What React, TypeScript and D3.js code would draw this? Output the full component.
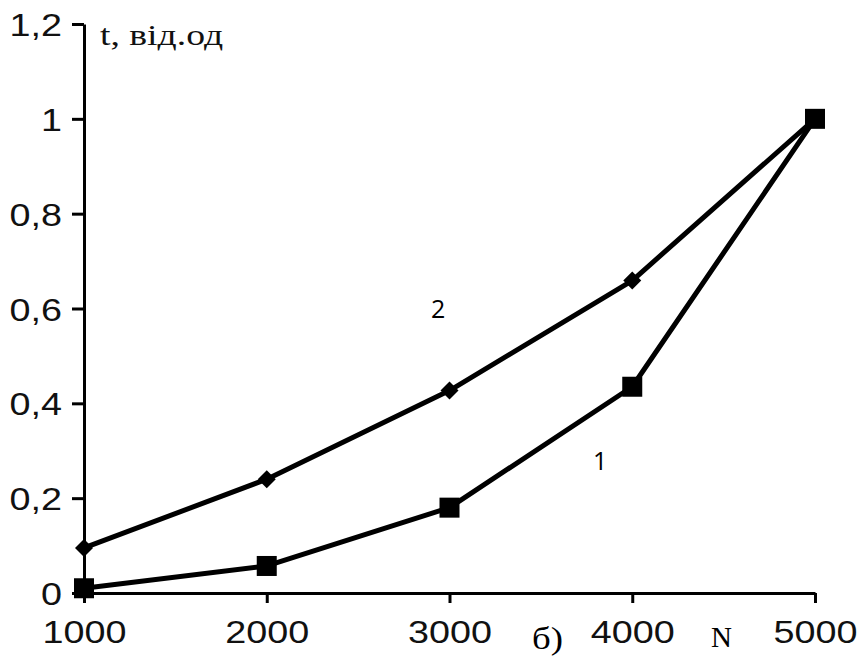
import { useEffect, useRef } from 'react';
import * as d3 from 'd3';

const nValues = [1000, 2000, 3000, 4000, 5000];
const series1 = [0.01, 0.057, 0.18, 0.435, 1.0];
const series2 = [0.095, 0.24, 0.427, 0.659, 1.0];
const yTicks = [0, 0.2, 0.4, 0.6, 0.8, 1, 1.2];

export default function App() {
  const svgRef = useRef<SVGSVGElement>(null);

  useEffect(() => {
    if (!svgRef.current) return;
    const svg = d3.select(svgRef.current);
    svg.selectAll('*').remove();

    const x = d3.scaleLinear().domain([1000, 5000]).range([84, 815]);
    const y = d3.scaleLinear().domain([0, 1.2]).range([593, 24]);
    const fmt = (v: number) => d3.format('~g')(v).replace('.', ',');

    const axisFont = '"Liberation Sans", Arial, sans-serif';
    const serif = '"Liberation Serif", "Times New Roman", serif';
    const stretch = 1.18;

    // y axis
    const gy = svg.append('g').attr('transform', `translate(${x(1000)},0)`);
    gy.call(d3.axisLeft(y).tickValues(yTicks).tickFormat(d => fmt(d as number)).tickSize(12).tickSizeOuter(0));
    gy.select('.domain').attr('stroke', '#000').attr('stroke-width', 3);
    gy.selectAll('.tick line').attr('stroke', '#000').attr('stroke-width', 3);
    gy.selectAll('.tick text')
      .attr('x', -22 / stretch)
      .attr('transform', `scale(${stretch},1)`)
      .attr('font-family', axisFont)
      .attr('font-size', 32)
      .attr('fill', '#111')
      .attr('dy', '0.36em');

    // x axis
    const gx = svg.append('g').attr('transform', `translate(0,${y(0)})`);
    gx.call(d3.axisBottom(x).tickValues(nValues).tickFormat(d => String(d)).tickSize(10).tickSizeOuter(0));
    gx.select('.domain').attr('stroke', '#000').attr('stroke-width', 3);
    gx.selectAll('.tick line').attr('stroke', '#000').attr('stroke-width', 3);
    gx.selectAll('.tick text')
      .attr('y', 50)
      .attr('dy', 0)
      .attr('transform', `scale(${stretch},1)`)
      .attr('font-family', axisFont)
      .attr('font-size', 32)
      .attr('fill', '#111');

    const line = d3.line<number>()
      .x((_, i) => x(nValues[i]))
      .y(d => y(d));

    svg.append('path').datum(series2).attr('d', line).attr('fill', 'none')
      .attr('stroke', '#000').attr('stroke-width', 5).attr('stroke-linejoin', 'round');
    svg.append('path').datum(series1).attr('d', line).attr('fill', 'none')
      .attr('stroke', '#000').attr('stroke-width', 5).attr('stroke-linejoin', 'round');

    const dh = 9;
    svg.append('g').selectAll('path').data(series2).join('path')
      .attr('d', `M0,${-dh}L${dh},0L0,${dh}L${-dh},0Z`)
      .attr('transform', (d, i) => `translate(${x(nValues[i])},${y(d)})`)
      .attr('fill', '#000');

    const sq = 20;
    svg.append('g').selectAll('rect').data(series1).join('rect')
      .attr('x', (_, i) => x(nValues[i]) - sq / 2)
      .attr('y', d => y(d) - sq / 2)
      .attr('width', sq)
      .attr('height', sq)
      .attr('fill', '#000');

    // labels
    svg.append('text').attr('transform', 'translate(100,45) scale(1.3,1)')
      .attr('font-family', serif)
      .attr('font-size', 29).attr('fill', '#111').text('t, від.од');
    svg.append('text').attr('x', 431).attr('y', 318)
      .attr('font-family', '"Open Sans", sans-serif')
      .attr('font-size', 25).attr('fill', '#000').text('2');
    svg.append('text').attr('x', 593).attr('y', 470)
      .attr('font-family', '"Open Sans", sans-serif')
      .attr('font-size', 25).attr('fill', '#000').text('1');
    svg.append('text').attr('transform', 'translate(532,649) scale(1.15,1)')
      .attr('font-family', serif)
      .attr('font-size', 32).attr('fill', '#000').text('б)');
    svg.append('text').attr('x', 711).attr('y', 647)
      .attr('font-family', serif)
      .attr('font-size', 29).attr('fill', '#000').text('N');
  }, []);

  return (
    <svg
      ref={svgRef}
      width={861}
      height={657}
      style={{ position: 'absolute', left: 0, top: 0, background: '#fff' }}
    />
  );
}
